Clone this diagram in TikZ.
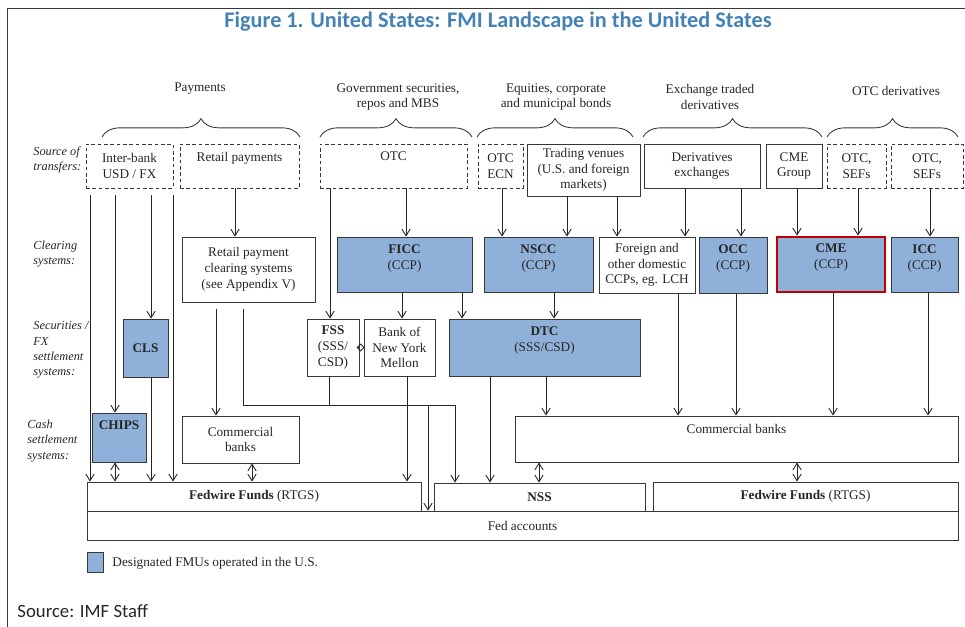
\documentclass[tikz,border=0pt]{standalone}
\usepackage{fontspec}
\setmainfont{Liberation Serif}
\newfontfamily\capfont{Carlito}
\usetikzlibrary{arrows.meta,decorations.pathreplacing}
\definecolor{fmublue}{RGB}{143,176,216}
\definecolor{edge}{RGB}{55,55,55}
\definecolor{cmered}{RGB}{192,0,0}
\definecolor{titleblue}{RGB}{68,130,182}
\newcommand\dfont{\fontsize{11.3}{13.5}\selectfont}
\tikzset{
  >={Straight Barb[length=2mm,width=2.5mm]},
  sz/.style 2 args={minimum width=#1*0.03cm,minimum height=#2*0.03cm},
  box/.style={draw=edge,fill=white,inner sep=1pt,align=center,font=\dfont},
  fmu/.style={box,fill=fmublue},
  src/.style={box,dash pattern=on 1.1mm off 0.8mm},
  toptxt/.style={label={[font=\dfont,align=center,anchor=north,yshift=-3.5pt]north:#1}},
  cat/.style={font=\dfont,align=center},
  rowlbl/.style={font=\fontsize{10.5}{13.2}\selectfont\itshape,align=left,anchor=west,inner sep=0pt},
  brc/.style={decorate,decoration={brace,amplitude=5.5mm},draw=edge},
  every picture/.style={line width=0.75pt},
}
\begin{document}
\begin{tikzpicture}[x=0.03cm,y=-0.03cm,color=black!85]
\useasboundingbox (0,0) rectangle (965,627);
\draw[edge] (7,627) -- (7,8) -- (965,8);
\node[font={\capfont\fontsize{19}{22}\selectfont\bfseries},text=titleblue] (title) at (498,22)
  {Figure 1. United States: FMI Landscape in the United States};

% market segments
\node[cat] (pay) at (200,89) {Payments};
\node[cat] (gov) at (398,97) {Government securities,\\repos and MBS};
\node[cat] (eq) at (556,97) {Equities, corporate\\and municipal bonds};
\node[cat] (etd) at (710,97) {Exchange traded\\derivatives};
\node[cat] (otcd) at (896,91) {OTC derivatives};
\foreach \a/\b in {102/300,320/472,477/633,643/822,827/958}
  \draw[brc] (\a,137) -- (\b,137);

% row labels
\node[rowlbl] (r1) at (33,160) {Source of\\transfers:};
\node[rowlbl] (r2) at (33,254) {Clearing\\systems:};
\node[rowlbl] (r3) at (33,350) {Securities /\\FX\\settlement\\systems:};
\node[rowlbl] (r4) at (27,441) {Cash\\settlement\\systems:};

% sources of transfers
\node[src,sz={87}{44}] (ib) at (129.5,166) {Inter-bank\\USD / FX};
\node[src,sz={119}{44},toptxt={Retail payments}] (rp) at (239.5,166) {};
\node[src,sz={147}{44},toptxt={OTC}] (otc) at (393.5,166) {};
\node[src,sz={45}{44}] (ecn) at (500.5,166) {OTC\\ECN};
\node[box,sz={113}{52}] (tv) at (583.5,170) {Trading venues\\(U.S. and foreign\\markets)};
\node[box,sz={116}{44}] (dx) at (702,166) {Derivatives\\exchanges};
\node[box,sz={56}{44}] (cmeg) at (794,166) {CME\\Group};
\node[src,sz={59}{44}] (sef1) at (856.5,166) {OTC,\\SEFs};
\node[src,sz={72}{44}] (sef2) at (927,166) {OTC,\\SEFs};

% clearing systems
\node[box,sz={133}{65}] (rpc) at (248.5,269.5) {Retail payment\\clearing systems\\(see Appendix V)};
\node[fmu,sz={135}{55},toptxt={\textbf{FICC}\\(CCP)}] (ficc) at (404.5,264.5) {};
\node[fmu,sz={109}{55},toptxt={\textbf{NSCC}\\(CCP)}] (nscc) at (538.5,264.5) {};
\node[box,sz={96}{56}] (lch) at (647,265) {Foreign and\\other domestic\\CCPs, eg. LCH};
\node[fmu,sz={68}{56},toptxt={\textbf{OCC}\\(CCP)}] (occ) at (733,265) {};
\node[fmu,sz={108}{55},draw=cmered,line width=2.4pt,toptxt={\textbf{CME}\\(CCP)}] (cme) at (831,264.5) {};
\node[fmu,sz={67}{55},toptxt={\textbf{ICC}\\(CCP)}] (icc) at (924.5,264.5) {};

% securities / FX settlement
\node[fmu,sz={45}{58}] (cls) at (145.5,348) {\textbf{CLS}};
\node[box,sz={52}{57}] (fss) at (333,347.5) {\textbf{FSS}\\(SSS/\\CSD)};
\node[box,sz={71}{57}] (bny) at (399.5,347.5) {Bank of\\New York\\Mellon};
\node[fmu,sz={191}{57},toptxt={\textbf{DTC}\\(SSS/CSD)}] (dtc) at (544.5,347.5) {};

% cash settlement
\node[fmu,sz={54}{49},toptxt={\textbf{CHIPS}}] (chips) at (119,437.5) {};
\node[box,sz={117}{47}] (cbl) at (240.5,439.5) {Commercial\\banks};
\node[box,sz={443}{46},toptxt={Commercial banks}] (cbr) at (736.5,439) {};

% central bank
\node[box,sz={871}{29}] (fed) at (522.5,525.5) {Fed accounts};
\node[box,sz={334}{29}] (fwl) at (254,496.5) {\textbf{Fedwire Funds} (RTGS)};
\node[box,sz={211}{28}] (nss) at (539.5,497) {\textbf{NSS}};
\node[box,sz={305}{29}] (fwr) at (805.5,496.5) {\textbf{Fedwire Funds} (RTGS)};

% flows
\foreach \x/\a/\b in {406/otc/ficc,330/otc/fss,502/ecn/nscc,567/tv/nscc,617/tv/lch,
  685/dx/lch,741/dx/occ,797/cmeg/cme,858/sef1/cme,930/sef2/icc,235/rp/rpc,
  402/ficc/bny,462/ficc/dtc,554/nscc/dtc,151/cls/fwl,407/bny/fwl,490/dtc/nss,
  546/dtc/cbr,678/lch/cbr,736/occ/cbr,833/cme/cbr,928/icc/cbr}
  \draw[->] (\x,0 |- \a.south) -- (\x,0 |- \b.north);
\foreach \x/\b in {90/fwl,115/chips,151/cls,173/fwl}
  \draw[->,shorten <=2mm] (\x,0 |- ib.south) -- (\x,0 |- \b.north);
\draw[->,shorten <=2mm] (216,0 |- rpc.south) -- (216,0 |- cbl.north);
\coordinate (jr) at (455,405);
\draw[->,shorten <=2mm] (243,0 |- rpc.south) |- (jr) -- (jr |- nss.north);
\draw (329,0 |- fss.south) -- (329,0 |- jr);
\draw[->] (428,0 |- jr) -- (428,0 |- fed.north);
\draw[-{Diamond[open,length=2.4mm,width=2.4mm]}] (fss.east) -- ([xshift=1pt]bny.west);
\foreach \x/\a/\b in {115/chips/fwl,252/cbl/fwl,539/cbr/nss,797/cbr/fwr}
  \draw[<->] (\x,0 |- \a.south) -- (\x,0 |- \b.north);

% legend
\node[fmu,sz={16}{20}] (key) at (95,562) {};
\node[font=\dfont,anchor=west,inner sep=0pt] (keytxt) at (112,563) {Designated FMUs operated in the U.S.};
\node[font={\capfont\fontsize{16}{19}\selectfont},anchor=west,inner sep=0pt] (source) at (17,611) {Source: IMF Staff};
\end{tikzpicture}
\end{document}
